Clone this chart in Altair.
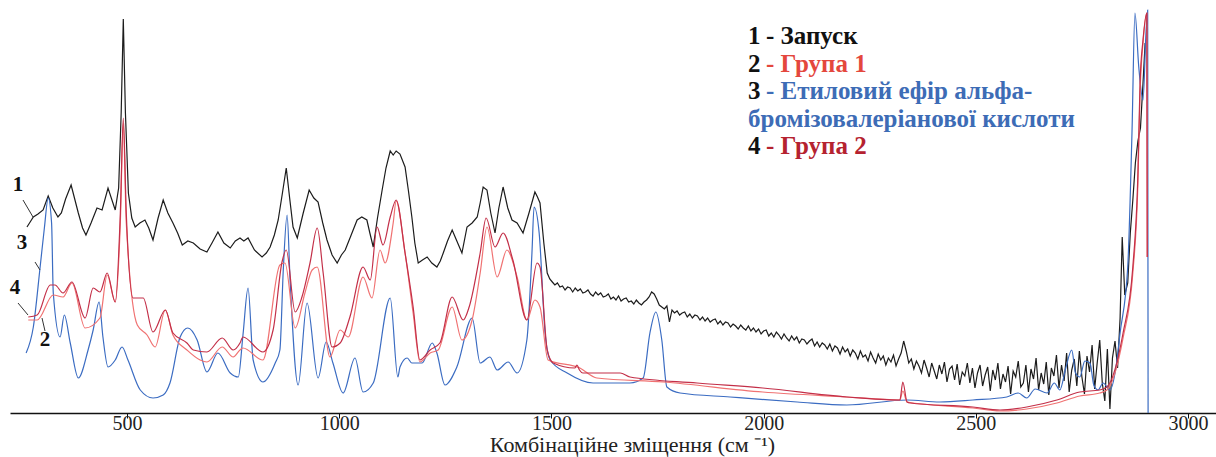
import altair as alt
import pandas as pd

# ---- Raman spectra: wavenumber (cm^-1) and intensity (arb. units) ----
# 1 - launch: fingerprint region, then the noisy tail sampled every 6 cm^-1
wn_launch_head = [264, 270, 279, 290, 302, 314, 325, 337, 345, 355, 368, 385, 395, 403, 415,
                  429, 441, 455, 472, 480, 486, 491, 496, 503, 511, 519, 530, 542, 551, 561,
                  573, 585, 596, 608, 619, 630, 643, 656, 672, 688, 700, 714, 728, 743, 755,
                  766, 775, 785, 800, 818, 828, 837, 847, 856, 866, 875, 883, 891, 901, 915,
                  929, 940, 950, 961, 971, 983, 995, 1005, 1014, 1028, 1042, 1053, 1065, 1072,
                  1080, 1090, 1101, 1110, 1120, 1127, 1134, 1143, 1155, 1163, 1171, 1178,
                  1186, 1196, 1207, 1218, 1230, 1238, 1245, 1255, 1266, 1277, 1289, 1301,
                  1313, 1325, 1332, 1339, 1348, 1357, 1367, 1376, 1386, 1397, 1407, 1419,
                  1433, 1447, 1461, 1467, 1473, 1482, 1490]
int_launch_head = [186, 190, 196, 199, 203, 217, 205, 196, 200, 214, 228, 200, 185, 178, 190,
                   205, 203, 225, 203, 225, 300, 394, 300, 220, 195, 186, 190, 193, 185, 173,
                   195, 213, 200, 190, 180, 168, 172, 170, 164, 161, 170, 181, 170, 165, 172,
                   175, 172, 175, 163, 156, 160, 166, 178, 193, 220, 245, 215, 186, 175, 200,
                   223, 215, 211, 190, 173, 158, 150, 158, 163, 178, 193, 196, 193, 180,
                   166, 195, 223, 245, 262, 258, 262, 259, 246, 222, 196, 170,
                   150, 153, 156, 150, 146, 152, 160, 172, 183, 172, 160, 186,
                   190, 196, 210, 226, 223, 200, 180, 205, 226, 205, 193, 190,
                   180, 200, 221, 216, 210, 170, 140]
wn_launch_tail = list(range(1496, 2834, 6))
int_launch_tail = [
    134, 131, 128, 130, 126, 127, 123, 126, 125, 121,
    125, 122, 124, 120, 121, 123, 119, 117, 121, 118,
    120, 116, 117, 119, 114, 116, 113, 117, 112, 114,
    115, 111, 112, 109, 113, 110, 108, 111, 113, 116,
    121, 119, 114, 108, 106, 104, 107, 91, 103, 100,
    102, 98, 100, 101, 96, 99, 95, 98, 97, 93,
    96, 92, 95, 91, 93, 94, 89, 92, 88, 91,
    90, 86, 89, 87, 84, 88, 85, 83, 87, 82,
    85, 81, 84, 79, 82, 83, 77, 80, 76, 81,
    78, 74, 79, 75, 72, 77, 73, 76, 70, 74,
    73, 69, 72, 74, 67, 71, 66, 70, 68, 64,
    69, 62, 67, 65, 59, 66, 61, 64, 57, 63,
    60, 54, 62, 56, 58, 52, 61, 55, 50, 59,
    53, 57, 48, 55, 51, 58, 47, 54, 60, 72,
    62, 50, 54, 44, 52, 47, 40, 53, 45, 36,
    50, 42, 34, 48, 39, 51, 31, 44, 47, 33,
    49, 28, 41, 37, 50, 30, 45, 25, 40, 48,
    27, 38, 46, 22, 43, 33, 50, 24, 39, 31,
    47, 19, 42, 36, 52, 26, 30, 48, 21, 44,
    34, 55, 23, 40, 29, 51, 18, 45, 37, 58,
    25, 48, 32, 60, 21, 43, 54, 27, 62, 36,
    19, 57, 41, 68, 24, 50, 73, 30, 12, 64,
    4, 55, 72]
wn_launch_end = [2834, 2840, 2845, 2851, 2858, 2864, 2870, 2876, 2882, 2888, 2894, 2899]
int_launch_end = [45, 95, 176, 118, 130, 180, 213, 250, 272, 285, 330, 370]
wn_launch = wn_launch_head + wn_launch_tail + wn_launch_end
int_launch = int_launch_head + int_launch_tail + int_launch_end

# 2 - group 1
wn_group1 = [267, 288, 326, 349, 370, 401, 436, 453, 472, 484, 491, 498, 524, 547, 566, 590,
             608, 641, 672, 688, 724, 750, 766, 773, 820, 860, 872, 896, 919, 936, 948, 978,
             1002, 1021, 1056, 1077, 1096, 1108, 1127, 1134, 1155, 1174, 1190, 1214, 1233,
             1266, 1289, 1313, 1332, 1348, 1372, 1395, 1419, 1442, 1461, 1473, 1492, 1567,
             1607, 1763, 1998, 2196, 2321, 2328, 2338, 2493, 2557, 2620, 2691, 2745, 2792,
             2809, 2847, 2870, 2882, 2887, 2894, 2903, 2904]
int_group1 = [93, 93, 118, 116, 130, 85, 95, 138, 111, 190, 290, 190, 88, 78, 66, 103,
              78, 63, 53, 51, 66, 56, 63, 65, 53, 148, 150, 85, 120, 143, 146, 56,
              83, 76, 136, 115, 163, 150, 190, 212, 160, 100, 51, 60, 63,
              106, 73, 93, 140, 186, 136, 163, 136, 93, 113, 106, 53, 45,
              35, 31, 21, 16, 13, 22, 11, 5, 2, 4, 10, 17, 20,
              23, 75, 140, 230, 320, 370, 400, 156]

# 3 - alpha-bromoisovaleric acid ethyl ester
wn_ester = [262, 279, 295, 305, 314, 322, 326, 342, 352, 366, 385, 408, 420, 434, 443, 455,
            472, 488, 502, 531, 561, 585, 601, 625, 643, 665, 688, 714, 743, 762, 773, 785,
            797, 820, 849, 860, 868, 877, 884, 903, 924, 950, 969, 985, 1009, 1037, 1056,
            1080, 1120, 1138, 1143, 1160, 1171, 1195, 1219, 1230, 1249, 1277, 1313, 1332,
            1355, 1372, 1398, 1419, 1442, 1454, 1459, 1471, 1485, 1497, 1537, 1598, 1685,
            1716, 1732, 1746, 1760, 1772, 1803, 1921, 2079, 2196, 2338, 2415, 2493, 2573,
            2600, 2620, 2640, 2668, 2685, 2698, 2712, 2726, 2735, 2745, 2757, 2769, 2778,
            2788, 2800, 2816, 2830, 2840, 2858, 2868, 2875, 2884, 2894, 2901, 2905, 2906]
int_ester = [60, 86, 146, 185, 215, 190, 120, 76, 98, 70, 35, 63, 83, 111, 76, 46,
             53, 66, 53, 23, 15, 18, 30, 76, 85, 73, 41, 60, 40, 36, 78, 125,
             53, 31, 50, 63, 143, 198, 133, 28, 110, 35, 71, 50, 20, 55, 21,
             30, 115, 36, 46, 55, 50, 50, 70, 60, 28, 46, 95, 50,
             56, 43, 51, 40, 73, 160, 206, 180, 80, 53, 40, 30, 30,
             35, 80, 101, 73, 26, 20, 16, 11, 8, 13, 11, 13, 16,
             20, 15, 24, 20, 30, 23, 45, 63, 40, 36, 52, 50, 28,
             23, 30, 23, 45, 80, 146, 280, 400, 346, 313, 380, 403, 0]

# 4 - group 2
wn_group2 = [267, 288, 319, 330, 349, 370, 401, 420, 436, 453, 472, 484, 491, 498, 514, 538,
             561, 590, 608, 641, 656, 688, 724, 750, 766, 773, 820, 844, 865, 875, 896, 912,
             931, 948, 962, 983, 1002, 1025, 1056, 1073, 1089, 1103, 1120, 1134, 1155, 1174,
             1190, 1214, 1237, 1266, 1292, 1306, 1332, 1346, 1367, 1386, 1409, 1442, 1466,
             1473, 1490, 1504, 1555, 1560, 1566, 1574, 1662, 1685, 1843, 1998, 2196, 2321,
             2328, 2338, 2345, 2493, 2557, 2620, 2691, 2745, 2792, 2809, 2847, 2870, 2882,
             2887, 2894, 2903, 2904]
int_group2 = [96, 98, 128, 128, 120, 131, 95, 125, 121, 140, 111, 200, 295, 200, 115, 115,
              81, 103, 80, 70, 63, 61, 75, 63, 70, 76, 61, 83, 151, 163, 101, 116,
              150, 185, 140, 66, 70, 96, 146, 133, 186, 168, 196, 213, 160, 106,
              53, 63, 70, 116, 93, 106, 160, 195, 166, 180, 153, 93, 150,
              146, 63, 50, 45, 48, 43, 40, 40, 36, 30, 25, 16, 13,
              31, 11, 10, 6, 3, 6, 13, 21, 23, 26, 80, 146, 240,
              330, 373, 400, 156]

# name, x, y, line colour, interpolation (drawing order: back to front)
series = [
    ("1", wn_launch, int_launch, "#1c1c1c", "linear"),
    ("3", wn_ester, int_ester, "#3b6cc2", "monotone"),
    ("2", wn_group1, int_group1, "#f07272", "monotone"),
    ("4", wn_group2, int_group2, "#c32f48", "monotone"),
]

x_scale = alt.Scale(domain=[224, 3066], nice=False, zero=False)
y_scale = alt.Scale(domain=[0, 413], nice=False, zero=True)
x_axis = alt.Axis(
    values=[500, 1000, 1500, 2000, 2500, 3000], format="d", grid=False,
    title="Комбінаційне зміщення (см ⁻¹)", titleX=622, titleY=21, titleBaseline="top",
)

layers = []
for name, xs, ys, color, interp in series:
    df = pd.DataFrame({"wn": xs, "I": ys})
    layers.append(
        alt.Chart(df).mark_line(color=color, strokeWidth=1.2, interpolate=interp, clip=True)
        .encode(x=alt.X("wn:Q", scale=x_scale, axis=x_axis),
                y=alt.Y("I:Q", scale=y_scale, axis=None))
    )

# legend block at the top right
legend_nums = ["1", "2", "3", "", "4"]
legend_texts = ["- Запуск", "- Група 1", "- Етиловий ефір альфа-",
                "бромізовалеріанової кислоти", "- Група 2"]
legend_colors = ["#111111", "#e4473d", "#3d6cb6", "#3d6cb6", "#b5222f"]
num_x, text_x, y0, dy = 738, 756, 36, 27.5
for i, (n, t, c) in enumerate(zip(legend_nums, legend_texts, legend_colors)):
    yy = y0 + i * dy
    if n:
        layers.append(
            alt.Chart(pd.DataFrame({"s": [n]})).mark_text(
                align="left", baseline="middle", font="Liberation Serif",
                fontWeight="bold", fontSize=25, color="#111111")
            .encode(text="s:N", x=alt.value(num_x), y=alt.value(yy)))
    layers.append(
        alt.Chart(pd.DataFrame({"s": [t]})).mark_text(
            align="left", baseline="middle", font="Liberation Serif",
            fontWeight="bold", fontSize=25, color=c)
        .encode(text="s:N", x=alt.value(text_x if n else num_x), y=alt.value(yy)))

# curve numbers on the left with leader lines
curve_labels = ["1", "3", "4", "2"]
label_pos = [(8, 185), (12, 243), (5, 288), (35, 340)]
leaders = [((13, 200), (23, 217)), ((25, 262), (30, 270)),
           ((8, 303), (18, 315)), ((32, 318), (35, 331))]
for s, (lx, ly), ((ax, ay), (bx, by)) in zip(curve_labels, label_pos, leaders):
    layers.append(
        alt.Chart(pd.DataFrame({"s": [s]})).mark_text(
            align="center", baseline="middle", font="Liberation Serif",
            fontWeight="bold", fontSize=21, color="#111111")
        .encode(text="s:N", x=alt.value(lx), y=alt.value(ly)))
    layers.append(
        alt.Chart(pd.DataFrame({"s": [s]})).mark_rule(color="#333333", strokeWidth=1)
        .encode(x=alt.value(ax), y=alt.value(ay), x2=alt.value(bx), y2=alt.value(by)))

chart = (
    alt.layer(*layers)
    .properties(width=1206, height=413, autosize=alt.AutoSizeParams(type="none"),
                padding={"left": 10, "top": 0, "right": 0, "bottom": 44},
                background="white")
    .configure_view(stroke=None)
    .configure_axisX(
        labelFont="Liberation Serif", labelFontSize=20, labelColor="#222222",
        labelPadding=-5, labelFlush=False, tickSize=5, tickColor="#111111",
        domainColor="#111111", domainWidth=1.3,
        titleFont="Liberation Serif", titleFontSize=22, titleFontWeight="normal",
        titleColor="#222222",
    )
)

chart.save("out.html", embed_options={"renderer": "svg", "actions": False})
